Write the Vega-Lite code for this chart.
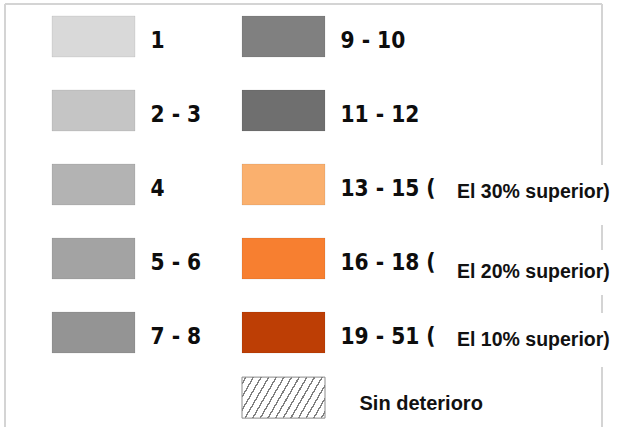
{
  "$schema": "https://vega.github.io/schema/vega-lite/v6.json",
  "width": 597,
  "height": 430,
  "autosize": {"type": "none"},
  "padding": {"left": 5, "top": 4, "right": 22, "bottom": 0},
  "background": "#ffffff",
  "view": {"stroke": null},
  "datasets": {
    "swatches": [
      {"label": "1", "col": 1, "row": 1, "color": "#d9d9d9"},
      {"label": "2 - 3", "col": 1, "row": 2, "color": "#c5c5c5"},
      {"label": "4", "col": 1, "row": 3, "color": "#b3b3b3"},
      {"label": "5 - 6", "col": 1, "row": 4, "color": "#a3a3a3"},
      {"label": "7 - 8", "col": 1, "row": 5, "color": "#949494"},
      {"label": "9 - 10", "col": 2, "row": 1, "color": "#808080"},
      {"label": "11 - 12", "col": 2, "row": 2, "color": "#6f6f6f"},
      {"label": "13 - 15 (", "col": 2, "row": 3, "color": "#fab06e"},
      {"label": "16 - 18 (", "col": 2, "row": 4, "color": "#f77f30"},
      {"label": "19 - 51 (", "col": 2, "row": 5, "color": "#bd3e05"}
    ],
    "suffixes": [
      {"text": "El 30% superior)", "col": 2, "row": 3},
      {"text": "El 20% superior)", "col": 2, "row": 4},
      {"text": "El 10% superior)", "col": 2, "row": 5}
    ],
    "nodamage": [
      {"text": "Sin deterioro", "col": 2, "row": 5.88}
    ],
    "frame": [
      {"side": "top", "c1": 0.5342, "c2": 3.6763, "r1": 0.5608, "r2": 0.5608},
      {"side": "left", "c1": 0.5342, "c2": 0.5342, "r1": 0.5608, "r2": 6.3716},
      {"side": "right", "c1": 3.6763, "c2": 3.6763, "r1": 0.5608, "r2": 2.7365},
      {"side": "right", "c1": 3.6763, "c2": 3.6763, "r1": 3.5473, "r2": 3.8851},
      {"side": "right", "c1": 3.6763, "c2": 3.6763, "r1": 4.4932, "r2": 4.7365},
      {"side": "right", "c1": 3.6763, "c2": 3.6763, "r1": 5.466, "r2": 6.3716}
    ]
  },
  "encoding": {
    "x": {"field": "col", "type": "quantitative", "axis": null,
          "scale": {"domain": [0.5342, 3.6763], "nice": false, "zero": false}},
    "y": {"field": "row", "type": "quantitative", "axis": null,
          "scale": {"domain": [0.5608, 6.3716], "nice": false, "zero": false, "reverse": true}}
  },
  "layer": [
    {
      "data": {"name": "frame"},
      "mark": {"type": "rule", "stroke": "#d4d4d4", "strokeWidth": 2},
      "encoding": {
        "x": {"field": "c1", "type": "quantitative"},
        "x2": {"field": "c2"},
        "y": {"field": "r1", "type": "quantitative"},
        "y2": {"field": "r2"}
      }
    },
    {
      "data": {"name": "swatches"},
      "mark": {"type": "rect", "width": 83, "height": 41, "stroke": "#000000", "strokeOpacity": 0.07, "strokeWidth": 1},
      "encoding": {"fill": {"field": "color", "type": "nominal", "scale": null}}
    },
    {
      "data": {"name": "swatches"},
      "mark": {"type": "text", "align": "left", "baseline": "alphabetic", "dx": 57, "dy": 11,
               "font": "'DejaVu Sans Condensed', 'DejaVu Sans'", "fontWeight": "bold", "fontSize": 22.5, "fill": "#0d0d0d"},
      "encoding": {"text": {"field": "label", "type": "nominal"}}
    },
    {
      "data": {"name": "suffixes"},
      "transform": [{"filter": "datum.row != 4"}],
      "mark": {"type": "text", "align": "left", "baseline": "alphabetic", "dx": 173.5, "dy": 13,
               "font": "Liberation Sans", "fontWeight": "bold", "fontSize": 19.5, "fill": "#111111"},
      "encoding": {"text": {"field": "text", "type": "nominal"}}
    },
    {
      "data": {"name": "suffixes"},
      "transform": [{"filter": "datum.row == 4"}],
      "mark": {"type": "text", "align": "left", "baseline": "alphabetic", "dx": 173.5, "dy": 19.5,
               "font": "Liberation Sans", "fontWeight": "bold", "fontSize": 19.5, "fill": "#111111"},
      "encoding": {"text": {"field": "text", "type": "nominal"}}
    },
    {
      "data": {"name": "nodamage"},
      "mark": {"type": "rect", "width": 83, "height": 41, "stroke": "#8a8a8a", "strokeWidth": 1,
               "fill": {"gradient": "linear", "x1": 0, "y1": 0, "x2": 1.189, "y2": 0.34,
                        "stops": [
                          {"offset": 0, "color": "#ffffff"},
                          {"offset": 0.0287, "color": "#ffffff"}, {"offset": 0.0287, "color": "#7f7f7f"}, {"offset": 0.0437, "color": "#7f7f7f"}, {"offset": 0.0437, "color": "#ffffff"},
                          {"offset": 0.1001, "color": "#ffffff"}, {"offset": 0.1001, "color": "#7f7f7f"}, {"offset": 0.1151, "color": "#7f7f7f"}, {"offset": 0.1151, "color": "#ffffff"},
                          {"offset": 0.1716, "color": "#ffffff"}, {"offset": 0.1716, "color": "#7f7f7f"}, {"offset": 0.1866, "color": "#7f7f7f"}, {"offset": 0.1866, "color": "#ffffff"},
                          {"offset": 0.2430, "color": "#ffffff"}, {"offset": 0.2430, "color": "#7f7f7f"}, {"offset": 0.2580, "color": "#7f7f7f"}, {"offset": 0.2580, "color": "#ffffff"},
                          {"offset": 0.3144, "color": "#ffffff"}, {"offset": 0.3144, "color": "#7f7f7f"}, {"offset": 0.3294, "color": "#7f7f7f"}, {"offset": 0.3294, "color": "#ffffff"},
                          {"offset": 0.3859, "color": "#ffffff"}, {"offset": 0.3859, "color": "#7f7f7f"}, {"offset": 0.4009, "color": "#7f7f7f"}, {"offset": 0.4009, "color": "#ffffff"},
                          {"offset": 0.4573, "color": "#ffffff"}, {"offset": 0.4573, "color": "#7f7f7f"}, {"offset": 0.4723, "color": "#7f7f7f"}, {"offset": 0.4723, "color": "#ffffff"},
                          {"offset": 0.5287, "color": "#ffffff"}, {"offset": 0.5287, "color": "#7f7f7f"}, {"offset": 0.5437, "color": "#7f7f7f"}, {"offset": 0.5437, "color": "#ffffff"},
                          {"offset": 0.6001, "color": "#ffffff"}, {"offset": 0.6001, "color": "#7f7f7f"}, {"offset": 0.6151, "color": "#7f7f7f"}, {"offset": 0.6151, "color": "#ffffff"},
                          {"offset": 0.6716, "color": "#ffffff"}, {"offset": 0.6716, "color": "#7f7f7f"}, {"offset": 0.6866, "color": "#7f7f7f"}, {"offset": 0.6866, "color": "#ffffff"},
                          {"offset": 0.7430, "color": "#ffffff"}, {"offset": 0.7430, "color": "#7f7f7f"}, {"offset": 0.7580, "color": "#7f7f7f"}, {"offset": 0.7580, "color": "#ffffff"},
                          {"offset": 0.8144, "color": "#ffffff"}, {"offset": 0.8144, "color": "#7f7f7f"}, {"offset": 0.8294, "color": "#7f7f7f"}, {"offset": 0.8294, "color": "#ffffff"},
                          {"offset": 0.8859, "color": "#ffffff"}, {"offset": 0.8859, "color": "#7f7f7f"}, {"offset": 0.9009, "color": "#7f7f7f"}, {"offset": 0.9009, "color": "#ffffff"},
                          {"offset": 0.9573, "color": "#ffffff"}, {"offset": 0.9573, "color": "#7f7f7f"}, {"offset": 0.9723, "color": "#7f7f7f"}, {"offset": 0.9723, "color": "#ffffff"},
                          {"offset": 1, "color": "#ffffff"}
                        ]}}
    },
    {
      "data": {"name": "nodamage"},
      "mark": {"type": "text", "align": "left", "baseline": "alphabetic", "dx": 76, "dy": 12.5,
               "font": "Liberation Sans", "fontWeight": "bold", "fontSize": 20, "fill": "#111111"},
      "encoding": {"text": {"field": "text", "type": "nominal"}}
    }
  ]
}
